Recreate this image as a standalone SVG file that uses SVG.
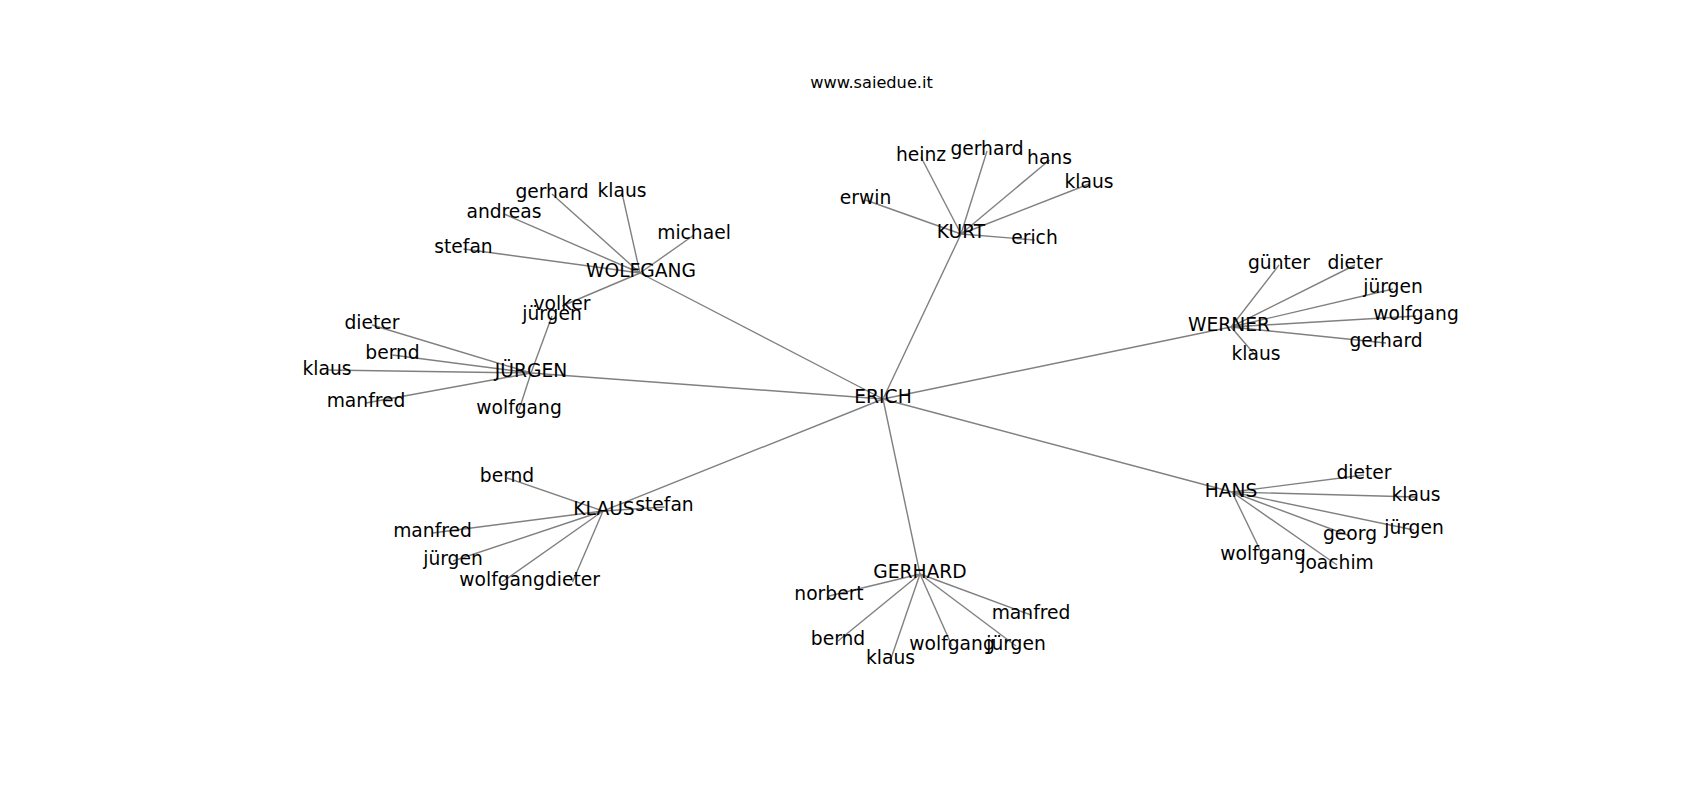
<svg xmlns="http://www.w3.org/2000/svg" width="1700" height="800" viewBox="0 0 1700 800">
<style>
.e{stroke:#808080;stroke-width:1.4;fill:none}
text{font-family:"DejaVu Sans","Liberation Sans",sans-serif;fill:#000;text-anchor:middle}
.n text{font-size:18.7px}
.t{font-size:16.2px}
</style>
<rect width="1700" height="800" fill="#fff"/>
<text class="t" x="871.5" y="87.5">www.saiedue.it</text>
<g id="edges">
<line class="e" x1="883" y1="399" x2="961" y2="234"/>
<line class="e" x1="883" y1="399" x2="1231" y2="327"/>
<line class="e" x1="883" y1="399" x2="1232" y2="492"/>
<line class="e" x1="883" y1="399" x2="920" y2="574"/>
<line class="e" x1="883" y1="399" x2="603" y2="511"/>
<line class="e" x1="883" y1="399" x2="531" y2="373"/>
<line class="e" x1="883" y1="399" x2="640" y2="273"/>
<line class="e" x1="961" y1="234" x2="865.5" y2="200"/>
<line class="e" x1="961" y1="234" x2="921" y2="157"/>
<line class="e" x1="961" y1="234" x2="987" y2="151"/>
<line class="e" x1="961" y1="234" x2="1049.5" y2="160"/>
<line class="e" x1="961" y1="234" x2="1089" y2="184"/>
<line class="e" x1="961" y1="234" x2="1034.5" y2="240"/>
<line class="e" x1="1231" y1="327" x2="1279" y2="265"/>
<line class="e" x1="1231" y1="327" x2="1355" y2="265"/>
<line class="e" x1="1231" y1="327" x2="1393" y2="289"/>
<line class="e" x1="1231" y1="327" x2="1416" y2="316"/>
<line class="e" x1="1231" y1="327" x2="1386" y2="343"/>
<line class="e" x1="1231" y1="327" x2="1256" y2="356"/>
<line class="e" x1="1232" y1="492" x2="1364" y2="475"/>
<line class="e" x1="1232" y1="492" x2="1416" y2="497"/>
<line class="e" x1="1232" y1="492" x2="1414" y2="530"/>
<line class="e" x1="1232" y1="492" x2="1350" y2="536"/>
<line class="e" x1="1232" y1="492" x2="1263" y2="556"/>
<line class="e" x1="1232" y1="492" x2="1337" y2="565"/>
<line class="e" x1="920" y1="574" x2="829" y2="596"/>
<line class="e" x1="920" y1="574" x2="1031" y2="615"/>
<line class="e" x1="920" y1="574" x2="838" y2="641"/>
<line class="e" x1="920" y1="574" x2="890.5" y2="660"/>
<line class="e" x1="920" y1="574" x2="952" y2="646"/>
<line class="e" x1="920" y1="574" x2="1016" y2="646"/>
<line class="e" x1="603" y1="511" x2="664.5" y2="507"/>
<line class="e" x1="603" y1="511" x2="507" y2="478"/>
<line class="e" x1="603" y1="511" x2="432.5" y2="533"/>
<line class="e" x1="603" y1="511" x2="453" y2="561"/>
<line class="e" x1="603" y1="511" x2="502" y2="582"/>
<line class="e" x1="603" y1="511" x2="572.5" y2="582"/>
<line class="e" x1="531" y1="373" x2="372" y2="325"/>
<line class="e" x1="531" y1="373" x2="392.5" y2="355"/>
<line class="e" x1="531" y1="373" x2="327" y2="370"/>
<line class="e" x1="531" y1="373" x2="366" y2="403"/>
<line class="e" x1="531" y1="373" x2="519" y2="410"/>
<line class="e" x1="531" y1="373" x2="552" y2="316"/>
<line class="e" x1="640" y1="273" x2="463.5" y2="249"/>
<line class="e" x1="640" y1="273" x2="504" y2="214"/>
<line class="e" x1="640" y1="273" x2="552" y2="194"/>
<line class="e" x1="640" y1="273" x2="622" y2="193"/>
<line class="e" x1="640" y1="273" x2="694" y2="235"/>
<line class="e" x1="640" y1="273" x2="562" y2="306"/>
</g>
<g class="n">
<g id="n-erich-c"><text x="883" y="403">ERICH</text></g>
<g id="n-kurt"><text x="961" y="238">KURT</text></g>
<g id="n-werner"><text x="1229" y="331">WERNER</text></g>
<g id="n-hans"><text x="1231" y="496.5">HANS</text></g>
<g id="n-gerhard"><text x="920" y="578">GERHARD</text></g>
<g id="n-klaus"><text x="604" y="514.5">KLAUS</text></g>
<g id="n-juergen"><text x="531" y="377">JÜRGEN</text></g>
<g id="n-wolfgang"><text x="641" y="277">WOLFGANG</text></g>
<g id="n-kurt-erwin"><text x="865.5" y="204">erwin</text></g>
<g id="n-kurt-heinz"><text x="921" y="161">heinz</text></g>
<g id="n-kurt-gerhard"><text x="987" y="155">gerhard</text></g>
<g id="n-kurt-hans"><text x="1049.5" y="164">hans</text></g>
<g id="n-kurt-klaus"><text x="1089" y="188">klaus</text></g>
<g id="n-kurt-erich"><text x="1034.5" y="244">erich</text></g>
<g id="n-werner-guenter"><text x="1279" y="269">günter</text></g>
<g id="n-werner-dieter"><text x="1355" y="269">dieter</text></g>
<g id="n-werner-juergen"><text x="1393" y="293">jürgen</text></g>
<g id="n-werner-wolfgang"><text x="1416" y="320">wolfgang</text></g>
<g id="n-werner-gerhard"><text x="1386" y="347">gerhard</text></g>
<g id="n-werner-klaus"><text x="1256" y="360">klaus</text></g>
<g id="n-hans-dieter"><text x="1364" y="479">dieter</text></g>
<g id="n-hans-klaus"><text x="1416" y="501">klaus</text></g>
<g id="n-hans-juergen"><text x="1414" y="534">jürgen</text></g>
<g id="n-hans-georg"><text x="1350" y="540">georg</text></g>
<g id="n-hans-wolfgang"><text x="1263" y="560">wolfgang</text></g>
<g id="n-hans-joachim"><text x="1337" y="569">joachim</text></g>
<g id="n-gerhard-norbert"><text x="829" y="600">norbert</text></g>
<g id="n-gerhard-manfred"><text x="1031" y="619">manfred</text></g>
<g id="n-gerhard-bernd"><text x="838" y="645">bernd</text></g>
<g id="n-gerhard-klaus"><text x="890.5" y="664">klaus</text></g>
<g id="n-gerhard-wolfgang"><text x="952" y="650">wolfgang</text></g>
<g id="n-gerhard-juergen"><text x="1016" y="650">jürgen</text></g>
<g id="n-klaus-stefan"><text x="664.5" y="511">stefan</text></g>
<g id="n-klaus-bernd"><text x="507" y="482">bernd</text></g>
<g id="n-klaus-manfred"><text x="432.5" y="537">manfred</text></g>
<g id="n-klaus-juergen"><text x="453" y="565">jürgen</text></g>
<g id="n-klaus-wolfgang"><text x="502" y="586">wolfgang</text></g>
<g id="n-klaus-dieter"><text x="572.5" y="586">dieter</text></g>
<g id="n-juergen-dieter"><text x="372" y="329">dieter</text></g>
<g id="n-juergen-bernd"><text x="392.5" y="359">bernd</text></g>
<g id="n-juergen-klaus"><text x="327" y="375">klaus</text></g>
<g id="n-juergen-manfred"><text x="366" y="407">manfred</text></g>
<g id="n-juergen-wolfgang"><text x="519" y="414">wolfgang</text></g>
<g id="n-juergen-juergen"><text x="552" y="320">jürgen</text></g>
<g id="n-wolfgang-stefan"><text x="463.5" y="253">stefan</text></g>
<g id="n-wolfgang-andreas"><text x="504" y="218">andreas</text></g>
<g id="n-wolfgang-gerhard"><text x="552" y="198">gerhard</text></g>
<g id="n-wolfgang-klaus"><text x="622" y="197">klaus</text></g>
<g id="n-wolfgang-michael"><text x="694" y="239">michael</text></g>
<g id="n-wolfgang-volker"><text x="562" y="310">volker</text></g>
</g>
</svg>
